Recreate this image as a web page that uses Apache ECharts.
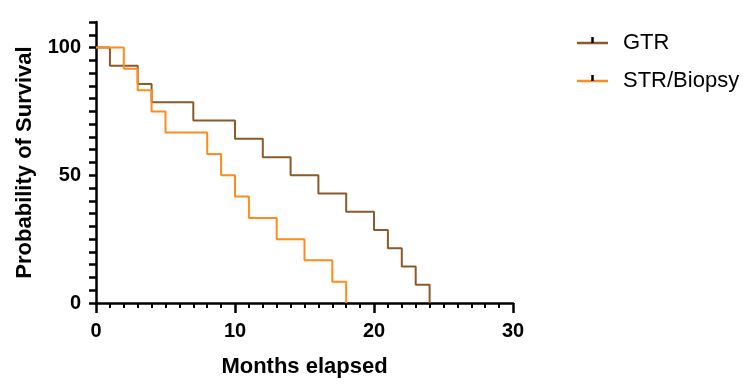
<!DOCTYPE html>
<html>
<head>
<meta charset="utf-8">
<script src="https://cdn.jsdelivr.net/npm/echarts@6/dist/echarts.min.js"></script>
<style>
  html, body { margin: 0; padding: 0; background: #fff; }
  #chart { width: 750px; height: 389px; }
</style>
</head>
<body>
<div id="chart"></div>
<script>
// Kaplan-Meier survival data
var gtrMonths = [0, 1, 3, 4, 7, 10, 12, 14, 16, 18, 20, 21, 22, 23, 24];
var gtrSurvival = [100, 92.9, 85.7, 78.6, 71.4, 64.3, 57.1, 50, 42.9, 35.7, 28.6, 21.4, 14.3, 7.1, 0];
var strMonths = [0, 2, 3, 4, 5, 8, 9, 10, 11, 13, 15, 17, 18];
var strSurvival = [100, 91.7, 83.3, 75, 66.7, 58.3, 50, 41.7, 33.3, 25, 16.7, 8.3, 0];
var seriesNames = ['GTR', 'STR/Biopsy'];
var colors = ['#8b5a2b', '#ff8c1a'];
var yLabels = [0, 50, 100];

function pairs(xs, ys) {
  return xs.map(function (x, i) { return [x, ys[i]]; });
}

var chart = echarts.init(document.getElementById('chart'));
var font = 'Liberation Sans, Arial, sans-serif';

chart.setOption({
  animation: false,
  grid: {  // plot area
    left: 96,
    right: 237,
    top: 22,
    bottom: 86
  },
  xAxis: {
    type: 'value',
    min: 0,
    max: 30,
    interval: 10,
    name: 'Months elapsed',
    nameLocation: 'middle',
    nameGap: 53,
    nameTextStyle: { fontFamily: font, fontWeight: 'bold', fontSize: 22, color: '#000' },
    axisLine: { lineStyle: { color: '#000', width: 2.5 } },
    axisTick: { length: 10, lineStyle: { color: '#000', width: 2.5 } },
    minorTick: { show: true, splitNumber: 10, length: 5, lineStyle: { color: '#000', width: 2 } },
    axisLabel: { margin: 18, fontFamily: font, fontWeight: 'bold', fontSize: 20, color: '#000' },
    splitLine: { show: false }
  },
  yAxis: {
    type: 'value',
    min: 0,
    max: 110,
    interval: 5,
    name: 'Probability of Survival',
    nameLocation: 'middle',
    nameGap: 60,
    nameTextStyle: { fontFamily: font, fontWeight: 'bold', fontSize: 22, color: '#000' },
    axisLine: { show: true, lineStyle: { color: '#000', width: 2.5 } },
    axisTick: { show: true, length: 7, lineStyle: { color: '#000', width: 2.5 } },
    axisLabel: {
      margin: 15,
      fontFamily: font, fontWeight: 'bold', fontSize: 20, color: '#000',
      formatter: function (v) { return yLabels.indexOf(v) >= 0 ? v : ''; }
    },
    splitLine: { show: false }
  },
  series: [
    {
      name: seriesNames[0],
      type: 'line',
      step: 'end',
      symbol: 'none',
      lineStyle: { color: colors[0], width: 2 },
      data: pairs(gtrMonths, gtrSurvival)
    },
    {
      name: seriesNames[1],
      type: 'line',
      step: 'end',
      symbol: 'none',
      lineStyle: { color: colors[1], width: 2 },
      data: pairs(strMonths, strSurvival)
    }
  ],
  // legend drawn by hand: coloured line with a black censor tick
  graphic: seriesNames.map(function (name, i) {
    return {
      type: 'group',
      x: 577,
      y: 43 + i * 38,
      children: [
        { type: 'line', shape: { x1: 0, y1: 0, x2: 31, y2: 0 }, style: { stroke: colors[i], lineWidth: 2.5 } },
        { type: 'line', shape: { x1: 15.5, y1: -6, x2: 15.5, y2: 0 }, style: { stroke: '#000', lineWidth: 2.5 } },
        { type: 'text', x: 46, y: 0, style: { text: name, font: '22px ' + font, fill: '#000', textVerticalAlign: 'middle' } }
      ]
    };
  })
});
</script>
</body>
</html>
